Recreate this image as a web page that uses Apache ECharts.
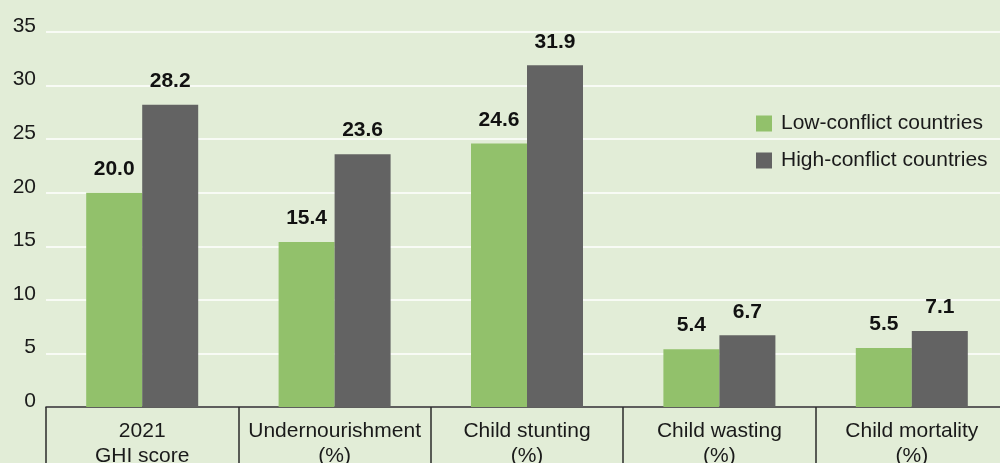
<!DOCTYPE html>
<html>
<head>
<meta charset="utf-8">
<style>
  html, body { margin: 0; padding: 0; background: #e2edd7; }
  #chart { width: 1000px; height: 463px; }
</style>
<script src="https://cdn.jsdelivr.net/npm/echarts@6/dist/echarts.min.js"></script>
</head>
<body>
<div id="chart"></div>
<script>
// Indicator categories (two-line labels)
const categories = [
  '2021\nGHI score',
  'Undernourishment\n(%)',
  'Child stunting\n(%)',
  'Child wasting\n(%)',
  'Child mortality\n(%)'
];
const lowConflict = [20.0, 15.4, 24.6, 5.4, 5.5];
const highConflict = [28.2, 23.6, 31.9, 6.7, 7.1];
const seriesNames = ['Low-conflict countries', 'High-conflict countries'];
const yTicks = { min: 0, max: 35, interval: 5 };

const FONT = '"Liberation Sans", Arial, sans-serif';
const GREEN = '#92c16b';
const GREY = '#636363';

const chart = echarts.init(document.getElementById('chart'));

const valueLabel = {
  show: true,
  position: 'top',
  distance: 13,
  fontFamily: FONT,
  fontSize: 21,
  fontWeight: 'bold',
  color: '#111',
  formatter: p => p.value.toFixed(1)
};

chart.setOption({
  backgroundColor: '#e2edd7',
  animation: false,
  grid: { left: 46, top: 32, width: 962, height: 375, containLabel: false, outerBoundsMode: 'none' },
  legend: {
    orient: 'vertical',
    left: 751,
    top: 108,
    itemWidth: 16,
    itemHeight: 16,
    itemGap: 16,
    icon: 'rect',
    textStyle: { fontFamily: FONT, fontSize: 21, color: '#1a1a1a', padding: [0, 0, 0, 4] },
    data: seriesNames
  },
  xAxis: {
    type: 'category',
    data: categories,
    boundaryGap: true,
    axisLine: { show: true, lineStyle: { color: '#2b2b2b', width: 1.5 } },
    axisTick: { show: true, length: 60, interval: 0, lineStyle: { color: '#2b2b2b', width: 1.5 } },
    axisLabel: {
      interval: 0,
      margin: 12,
      fontFamily: FONT,
      fontSize: 21,
      lineHeight: 25,
      color: '#1a1a1a'
    }
  },
  yAxis: {
    type: 'value',
    min: yTicks.min,
    max: yTicks.max,
    interval: yTicks.interval,
    axisLine: { show: false },
    axisTick: { show: false },
    splitLine: { show: true, lineStyle: { color: '#ffffff', width: 1.5 } },
    axisLabel: {
      margin: 10,
      fontFamily: FONT,
      fontSize: 21,
      color: '#1a1a1a',
      // tick numbers sit slightly above their gridlines
      verticalAlign: 'bottom',
      lineHeight: 12
    }
  },
  series: [
    {
      name: seriesNames[0],
      type: 'bar',
      data: lowConflict,
      barWidth: 56,
      barGap: '0%',
      itemStyle: { color: GREEN },
      label: valueLabel
    },
    {
      name: seriesNames[1],
      type: 'bar',
      data: highConflict,
      barWidth: 56,
      barGap: '0%',
      itemStyle: { color: GREY },
      label: valueLabel
    }
  ]
});
</script>
</body>
</html>
